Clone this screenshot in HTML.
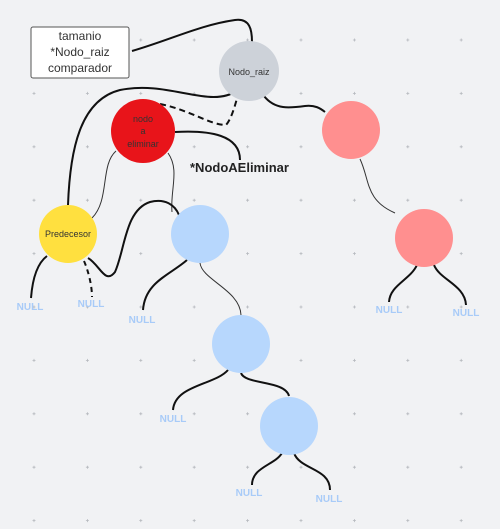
<!DOCTYPE html>
<html><head><meta charset="utf-8"><style>
html,body{margin:0;padding:0;background:#f1f2f4;}
svg{display:block;font-family:"Liberation Sans",sans-serif;}
.e{fill:none;stroke:#111;stroke-width:2;}
.t{fill:none;stroke:#333;stroke-width:1;}
.n{fill:#a8cbf8;font-size:10px;font-weight:bold;text-anchor:middle;}
</style></head><body>
<svg width="500" height="529" viewBox="0 0 500 529">
<g id="grid"></g>
<!-- edges -->
<g>
<path class="e" d="M132,51 C170,40 200,25 235,20 C250,18 252,30 252,42"/>
<path class="e" d="M68,205 C70,150 80,100 120,90 C170,80 210,110 238,90"/>
<path class="e" stroke-dasharray="6,4" d="M160,104 C190,110 210,125 226,125 C232,118 235,105 238,95"/>
<path class="e" d="M175,132 C210,130 240,135 240,160"/>
<path class="t" d="M116,151 C100,165 110,200 92,218"/>
<path class="t" d="M168,153 C180,170 170,190 172,212"/>
<path class="e" d="M88,258 C100,265 105,285 115,272 C125,250 125,210 150,202 C165,198 175,205 179,215"/>
<path class="e" stroke-dasharray="5,4" d="M84,261 C88,270 92,285 92,297"/>
<path class="e" d="M47,256 C35,265 32,285 31,298"/>
<path class="e" d="M264,96 C275,110 290,108 305,106 C315,105 320,108 325,112"/>
<path class="t" d="M360,159 C370,180 365,200 395,213"/>
<path class="e" d="M187,260 C170,275 145,282 143,310"/>
<path class="t" d="M200,263 C202,280 240,290 241,315"/>
<path class="e" d="M228,370 C215,385 175,385 173,410"/>
<path class="e" d="M241,373 C245,385 285,380 289,396"/>
<path class="e" d="M282,453 C275,465 252,467 252,485"/>
<path class="e" d="M294,453 C300,470 330,468 330,490"/>
<path class="e" d="M417,265 C410,280 390,285 389,302"/>
<path class="e" d="M434,265 C440,280 465,285 466,305"/>
</g>
<!-- info box -->
<rect x="31" y="27" width="98" height="51" rx="2" fill="#fff" stroke="#555" stroke-width="1"/>
<text x="80" y="40" font-size="12" fill="#333" text-anchor="middle">tamanio</text>
<text x="80" y="56" font-size="12" fill="#333" text-anchor="middle">*Nodo_raiz</text>
<text x="80" y="72" font-size="12" fill="#333" text-anchor="middle">comparador</text>
<!-- nodes -->
<circle cx="249" cy="71" r="30" fill="#cdd2d9"/>
<text x="249" y="75" font-size="9" fill="#333" text-anchor="middle">Nodo_raiz</text>
<circle cx="143" cy="131" r="32" fill="#e8141a"/>
<text x="143" y="122" font-size="9" fill="#333" text-anchor="middle">nodo</text>
<text x="143" y="134" font-size="9" fill="#333" text-anchor="middle">a</text>
<text x="143" y="147" font-size="9" fill="#333" text-anchor="middle">eliminar</text>
<text x="190" y="172" font-size="13" font-weight="bold" fill="#222">*NodoAEliminar</text>
<circle cx="351" cy="130" r="29" fill="#ff8f8f"/>
<circle cx="424" cy="238" r="29" fill="#ff8f8f"/>
<circle cx="68" cy="234" r="29" fill="#ffe03f"/>
<text x="68" y="237" font-size="9" fill="#333" text-anchor="middle">Predecesor</text>
<circle cx="200" cy="234" r="29" fill="#b7d7fd"/>
<circle cx="241" cy="344" r="29" fill="#b7d7fd"/>
<circle cx="289" cy="426" r="29" fill="#b7d7fd"/>
<!-- NULLs -->
<text class="n" x="30" y="310">NULL</text>
<text class="n" x="91" y="307">NULL</text>
<text class="n" x="142" y="323">NULL</text>
<text class="n" x="389" y="313">NULL</text>
<text class="n" x="466" y="316">NULL</text>
<text class="n" x="173" y="422">NULL</text>
<text class="n" x="249" y="496">NULL</text>
<text class="n" x="329" y="502">NULL</text>
</svg>
<script>
var g=document.getElementById('grid');
for(var i=0;i<9;i++)for(var j=0;j<10;j++){
var x=34+i*53.4,y=40+j*53.4;
var d=document.createElementNS('http://www.w3.org/2000/svg','path');
d.setAttribute('d','M'+(x-1.5)+','+y+'h3M'+x+','+(y-1.5)+'v3');
d.setAttribute('stroke','#b5b8bd');d.setAttribute('stroke-width','0.8');


g.appendChild(d);}
</script>
</body></html>
